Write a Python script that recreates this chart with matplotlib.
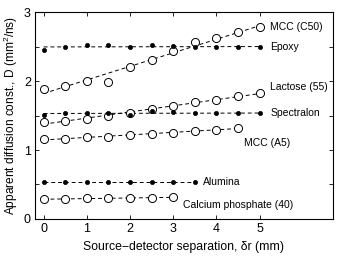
import numpy as np
import matplotlib
matplotlib.use("Agg")
import matplotlib.pyplot as plt
from matplotlib.ticker import MultipleLocator

plt.rcParams['font.family'] = ['Liberation Sans', 'DejaVu Sans']
plt.rcParams['mathtext.fontset'] = 'custom'
plt.rcParams['mathtext.rm'] = 'Liberation Sans'

x_full = [0, 0.5, 1, 1.5, 2, 2.5, 3, 3.5, 4, 4.5, 5]

mcc_c50 = [1.89, 1.93, 2.00, 1.99, 2.20, 2.31, 2.43, 2.56, 2.62, 2.71, 2.78]
epoxy = [2.45, 2.49, 2.52, 2.52, 2.50, 2.52, 2.51, 2.49, 2.49, 2.49, 2.49]
lactose = [1.40, 1.42, 1.45, 1.49, 1.54, 1.60, 1.64, 1.69, 1.73, 1.78, 1.82]
spectralon = [1.51, 1.54, 1.54, 1.53, 1.51, 1.56, 1.55, 1.53, 1.53, 1.53, 1.53]
x_a5 = [0, 0.5, 1, 1.5, 2, 2.5, 3, 3.5, 4, 4.5]
mcc_a5 = [1.155, 1.16, 1.19, 1.19, 1.22, 1.23, 1.25, 1.28, 1.29, 1.32]
x_alu = [0, 0.5, 1, 1.5, 2, 2.5, 3, 3.5]
alumina = [0.54, 0.54, 0.54, 0.54, 0.54, 0.54, 0.54, 0.54]
x_cap = [0, 0.5, 1, 1.5, 2, 2.5, 3]
ca_phos = [0.285, 0.29, 0.30, 0.30, 0.30, 0.31, 0.315]

series = [
    ("MCC (C50)", x_full, mcc_c50, False, (5.25, 2.79)),
    ("Epoxy", x_full, epoxy, True, (5.25, 2.49)),
    ("Lactose (55)", x_full, lactose, False, (5.25, 1.92)),
    ("Spectralon", x_full, spectralon, True, (5.25, 1.53)),
    ("MCC (A5)", x_a5, mcc_a5, False, (4.65, 1.10)),
    ("Alumina", x_alu, alumina, True, (3.7, 0.54)),
    ("Calcium phosphate (40)", x_cap, ca_phos, False, (3.22, 0.20)),
]

fig = plt.figure(figsize=(3.38, 2.57), dpi=100)
ax = fig.add_axes([0.1036, 0.148, 0.8815, 0.805])

for name, xs, ys, filled, (tx, ty) in series:
    xs = np.array(xs); ys = np.array(ys)
    p = np.polyfit(xs, ys, 1)
    xf = np.array([xs.min(), xs.max()])
    ax.plot(xf, np.polyval(p, xf), ls=(0, (4, 3)), color='black', lw=0.7, zorder=1)
    if filled:
        ax.plot(xs, ys, 'o', ms=3.0, mfc='black', mec='black', mew=0.5, zorder=3)
    else:
        ax.plot(xs, ys, 'o', ms=5.8, mfc='white', mec='black', mew=0.7, zorder=2)
    ax.text(tx, ty, name, fontsize=7.5, va='center', ha='left')

ax.set_xlim(-0.2, 6.7)
ax.set_ylim(0, 3)
ax.set_xticks([0, 1, 2, 3, 4, 5])
ax.set_yticks([0, 1, 2, 3])
ax.yaxis.set_minor_locator(MultipleLocator(0.5))
ax.tick_params(which='both', direction='in', top=True, right=True, length=3, width=0.6, labelsize=9, pad=3)
ax.tick_params(axis='x', which='minor', top=False, bottom=False)
for s in ax.spines.values():
    s.set_linewidth(0.8)
ax.set_xlabel("Source\u2212detector separation, \u03b4r (mm)", fontsize=8.8, labelpad=4)
ax.set_ylabel("Apparent diffusion const., D (mm$^2$/ns)", fontsize=8.6, labelpad=3)

fig.savefig("out.png", dpi=100)
